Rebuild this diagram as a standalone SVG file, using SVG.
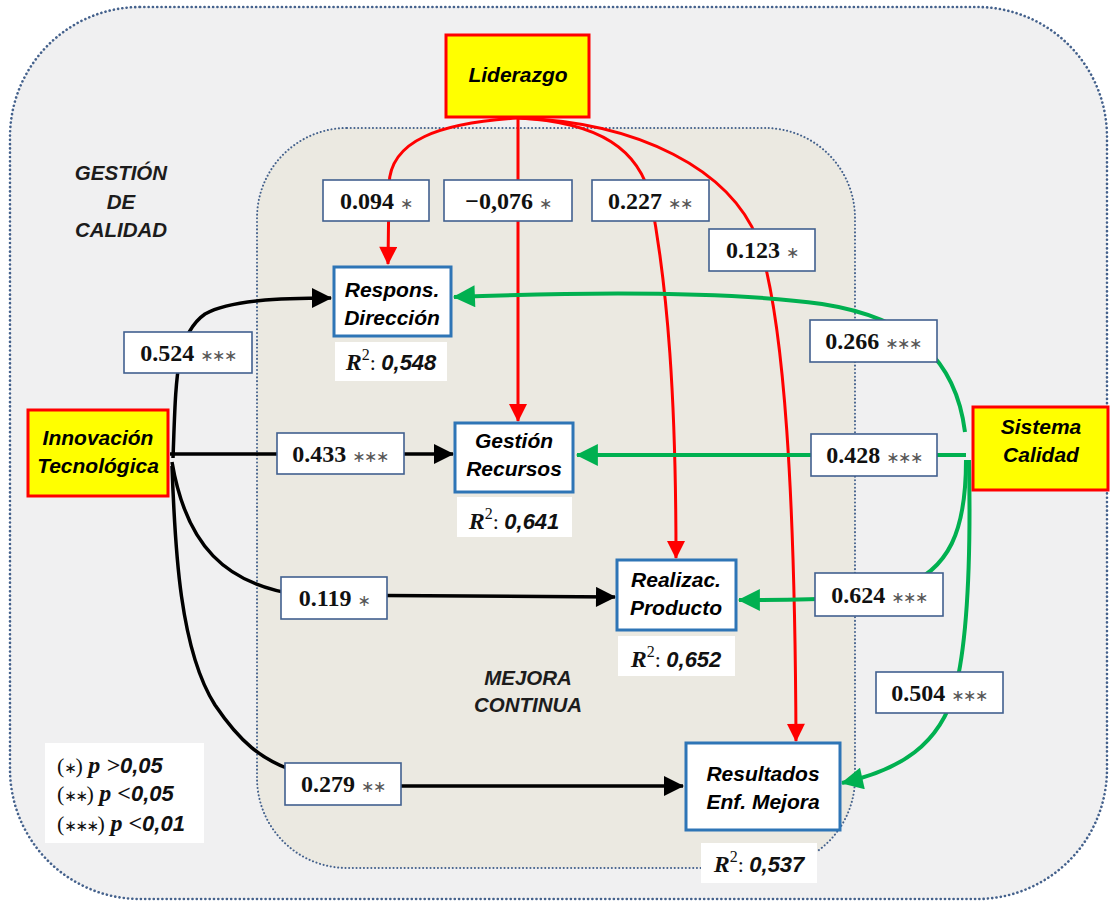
<svg xmlns="http://www.w3.org/2000/svg" width="1110" height="903" viewBox="0 0 1110 903">
  <style>
    .zone-outer { fill: #f0f0f1; stroke: #44618c; stroke-width: 2.6; stroke-dasharray: 0.1 4.2; stroke-linecap: round; }
    .zone-inner { fill: #ebe9e1; stroke: #44618c; stroke-width: 2; stroke-dasharray: 0.1 3.6; stroke-linecap: round; }
    .zone-txt { font-family: "Liberation Sans", Arial, sans-serif; font-weight: bold; font-style: italic; font-size: 20.5px; fill: #1c1c1c; text-anchor: middle; }
    .latent rect { fill: #ffff00; stroke: #ff0000; stroke-width: 3; }
    .construct rect { fill: #ffffff; stroke: #2e75b6; stroke-width: 3; }
    .node-txt { font-family: "Liberation Sans", Arial, sans-serif; font-weight: bold; font-style: italic; font-size: 21px; fill: #000; text-anchor: middle; }
    .coef rect { fill: #ffffff; stroke: #41608f; stroke-width: 1.6; }
    .coef text { font-family: "Liberation Serif", "Times New Roman", serif; font-weight: bold; font-size: 24px; fill: #111; text-anchor: middle; }
    .star { font-family: "DejaVu Sans", sans-serif; font-weight: normal; font-size: 16px; fill: #555; letter-spacing: -1.5px; }
    .r2 rect { fill: #ffffff; stroke: none; }
    .r2 text { font-size: 22px; fill: #111; text-anchor: middle; }
    .rR { font-family: "Liberation Serif", serif; font-weight: bold; font-style: italic; font-size: 24px; }
    .rsup { font-family: "Liberation Serif", serif; font-size: 16px; }
    .rcol { font-family: "Liberation Serif", serif; }
    .rnum { font-family: "Liberation Sans", Arial, sans-serif; font-weight: bold; font-style: italic; }
    .legend text { font-size: 22px; fill: #111; }
    .lstar { font-family: "DejaVu Sans", sans-serif; font-size: 15px; letter-spacing: -1.5px; }
    .red { fill: none; stroke: #ff0000; stroke-width: 3; marker-end: url(#headRed); }
    .black { fill: none; stroke: #000000; stroke-width: 3.5; marker-end: url(#headBlack); }
    .green { fill: none; stroke: #00b050; stroke-width: 4; marker-end: url(#headGreen); }
  </style>
  <defs>
    <marker id="headRed" viewBox="0 0 10 10" refX="9.5" refY="5" markerWidth="20" markerHeight="18" markerUnits="userSpaceOnUse" orient="auto">
      <path d="M0,0 L10,5 L0,10 z" fill="#ff0000"/>
    </marker>
    <marker id="headBlack" viewBox="0 0 10 10" refX="9.5" refY="5" markerWidth="22" markerHeight="20" markerUnits="userSpaceOnUse" orient="auto">
      <path d="M0,0 L10,5 L0,10 z" fill="#000000"/>
    </marker>
    <marker id="headGreen" viewBox="0 0 10 10" refX="9.5" refY="5" markerWidth="24" markerHeight="22" markerUnits="userSpaceOnUse" orient="auto">
      <path d="M0,0 L10,5 L0,10 z" fill="#00b050"/>
    </marker>
  </defs>

  <!-- background areas -->
  <g id="zone-gestion">
    <rect class="zone-outer" x="10" y="7" width="1097" height="892" rx="130" ry="130"/>
    <text class="zone-txt" x="121" y="180">GESTIÓN</text>
    <text class="zone-txt" x="121" y="209">DE</text>
    <text class="zone-txt" x="121" y="237">CALIDAD</text>
  </g>
  <g id="zone-mejora">
    <rect class="zone-inner" x="257" y="128" width="598" height="740" rx="90" ry="90"/>
    <text class="zone-txt" x="528" y="685">MEJORA</text>
    <text class="zone-txt" x="528" y="712">CONTINUA</text>
  </g>

  <!-- paths -->
  <g id="connectors">
    <!-- Liderazgo -->
    <path class="red" d="M518 118 C440 123 390 140 389 185 L388 264"/>
    <path class="red" d="M518 118 L518 421"/>
    <path class="red" d="M518 118 C600 122 640 150 651 200 C668 290 676 400 676 558"/>
    <path class="red" d="M518 118 C640 122 730 170 758 240 C785 320 795 500 796 741"/>
    <!-- Innovación Tecnológica -->
    <path class="black" d="M173 458 C176 380 175 335 205 314 C230 300 280 298 331 298"/>
    <path class="black" d="M170 454 L453 454"/>
    <path class="black" d="M172 462 C186 545 225 585 300 595 L615 597"/>
    <path class="black" d="M172 466 C175 550 180 650 215 705 C240 742 262 760 292 770 C305 780 325 786 360 786 L683 786"/>
    <!-- Sistema Calidad -->
    <path class="green" d="M965 432 C956 360 912 318 822 304 C720 290 560 293 454 297"/>
    <path class="green" d="M966 455 L577 455"/>
    <path class="green" d="M966 460 C966 530 950 570 900 588 C870 598 830 600 739 600"/>
    <path class="green" d="M969 460 C971 560 968 640 955 690 C940 745 900 770 842 783"/>
  </g>

  <!-- path coefficients -->
  <g id="coef-lid-rd" class="coef"><rect x="323" y="180" width="106" height="41"/><text x="376" y="209">0.094 <tspan class="star">∗</tspan></text></g>
  <g id="coef-lid-gr" class="coef"><rect x="444" y="180" width="128" height="41"/><text x="508" y="209">−0,076  <tspan class="star">∗</tspan></text></g>
  <g id="coef-lid-rp" class="coef"><rect x="592" y="180" width="117" height="41"/><text x="650" y="209">0.227 <tspan class="star">∗∗</tspan></text></g>
  <g id="coef-lid-re" class="coef"><rect x="709" y="229" width="106" height="42"/><text x="762" y="258">0.123 <tspan class="star">∗</tspan></text></g>
  <g id="coef-inn-rd" class="coef"><rect x="124" y="332" width="128" height="41"/><text x="188" y="361">0.524 <tspan class="star">∗∗∗</tspan></text></g>
  <g id="coef-inn-gr" class="coef"><rect x="277" y="433" width="127" height="41"/><text x="340" y="462">0.433 <tspan class="star">∗∗∗</tspan></text></g>
  <g id="coef-inn-rp" class="coef"><rect x="281" y="577" width="106" height="42"/><text x="334" y="606">0.119 <tspan class="star">∗</tspan></text></g>
  <g id="coef-inn-re" class="coef"><rect x="285" y="763" width="116" height="42"/><text x="343" y="792">0.279 <tspan class="star">∗∗</tspan></text></g>
  <g id="coef-sis-rd" class="coef"><rect x="810" y="320" width="127" height="42"/><text x="873" y="349">0.266 <tspan class="star">∗∗∗</tspan></text></g>
  <g id="coef-sis-gr" class="coef"><rect x="811" y="434" width="126" height="42"/><text x="874" y="463">0.428 <tspan class="star">∗∗∗</tspan></text></g>
  <g id="coef-sis-rp" class="coef"><rect x="815" y="573" width="128" height="43"/><text x="879" y="603">0.624 <tspan class="star">∗∗∗</tspan></text></g>
  <g id="coef-sis-re" class="coef"><rect x="876" y="672" width="127" height="41"/><text x="939" y="701">0.504 <tspan class="star">∗∗∗</tspan></text></g>

  <!-- exogenous constructs -->
  <g id="liderazgo" class="latent">
    <rect x="446" y="35" width="143" height="82"/>
    <text class="node-txt" x="518" y="82">Liderazgo</text>
  </g>
  <g id="innovacion" class="latent">
    <rect x="28" y="410" width="140" height="86"/>
    <text class="node-txt" x="98" y="445">Innovación</text>
    <text class="node-txt" x="98" y="473">Tecnológica</text>
  </g>
  <g id="sistema" class="latent">
    <rect x="973" y="407" width="135" height="83"/>
    <text class="node-txt" x="1041" y="434">Sistema</text>
    <text class="node-txt" x="1041" y="462">Calidad</text>
  </g>

  <!-- endogenous constructs -->
  <g id="respons" class="construct">
    <rect x="334" y="267" width="117" height="69"/>
    <text class="node-txt" x="392" y="297">Respons.</text>
    <text class="node-txt" x="392" y="325">Dirección</text>
  </g>
  <g id="r2-respons" class="r2">
    <rect x="335" y="342" width="112" height="39"/>
    <text x="391" y="370"><tspan class="rR">R</tspan><tspan class="rsup" dy="-10">2</tspan><tspan class="rcol" dy="10">: </tspan><tspan class="rnum">0,548</tspan></text>
  </g>

  <g id="gestion" class="construct">
    <rect x="455" y="423" width="118" height="69"/>
    <text class="node-txt" x="514" y="448">Gestión</text>
    <text class="node-txt" x="514" y="476">Recursos</text>
  </g>
  <g id="r2-gestion" class="r2">
    <rect x="457" y="497" width="115" height="40"/>
    <text x="514" y="529"><tspan class="rR">R</tspan><tspan class="rsup" dy="-10">2</tspan><tspan class="rcol" dy="10">: </tspan><tspan class="rnum">0,641</tspan></text>
  </g>

  <g id="realizac" class="construct">
    <rect x="617" y="560" width="119" height="70"/>
    <text class="node-txt" x="676" y="587">Realizac.</text>
    <text class="node-txt" x="676" y="615">Producto</text>
  </g>
  <g id="r2-realizac" class="r2">
    <rect x="618" y="636" width="117" height="40"/>
    <text x="676" y="667"><tspan class="rR">R</tspan><tspan class="rsup" dy="-10">2</tspan><tspan class="rcol" dy="10">: </tspan><tspan class="rnum">0,652</tspan></text>
  </g>

  <g id="resultados" class="construct">
    <rect x="686" y="743" width="154" height="87"/>
    <text class="node-txt" x="763" y="781">Resultados</text>
    <text class="node-txt" x="763" y="809">Enf. Mejora</text>
  </g>
  <g id="r2-resultados" class="r2">
    <rect x="701" y="843" width="116" height="40"/>
    <text x="759" y="872"><tspan class="rR">R</tspan><tspan class="rsup" dy="-10">2</tspan><tspan class="rcol" dy="10">: </tspan><tspan class="rnum">0,537</tspan></text>
  </g>

  <!-- significance key -->
  <g id="legend" class="legend">
    <rect x="45" y="743" width="159" height="100" fill="#ffffff"/>
    <text x="57" y="773"><tspan class="rcol">(</tspan><tspan class="lstar">∗</tspan><tspan class="rcol">) </tspan><tspan class="rR">p &gt;</tspan><tspan class="rnum">0,05</tspan></text>
    <text x="57" y="801"><tspan class="rcol">(</tspan><tspan class="lstar">∗∗</tspan><tspan class="rcol">) </tspan><tspan class="rR">p &lt;</tspan><tspan class="rnum">0,05</tspan></text>
    <text x="57" y="831"><tspan class="rcol">(</tspan><tspan class="lstar">∗∗∗</tspan><tspan class="rcol">) </tspan><tspan class="rR">p &lt;</tspan><tspan class="rnum">0,01</tspan></text>
  </g>
</svg>
